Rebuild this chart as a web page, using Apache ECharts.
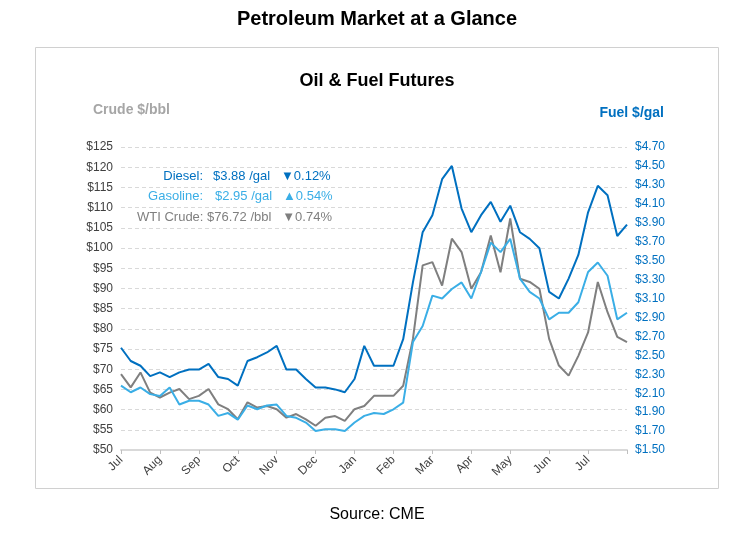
<!DOCTYPE html>
<html>
<head>
<meta charset="utf-8">
<script src="https://cdn.jsdelivr.net/npm/echarts@6/dist/echarts.min.js"></script>
<style>
  html, body { margin: 0; padding: 0; background: #fff; }
  #chart { width: 754px; height: 549px; }
</style>
</head>
<body>
<div id="chart"></div>
<script>
// month labels, one every 4 weekly points
const months = ['Jul', 'Aug', 'Sep', 'Oct', 'Nov', 'Dec', 'Jan', 'Feb', 'Mar', 'Apr', 'May', 'Jun', 'Jul'];
// weekly prices
const diesel = [2.58, 2.44, 2.39, 2.28, 2.32, 2.27, 2.32, 2.35, 2.35, 2.41, 2.27, 2.25,
  2.18, 2.44, 2.48, 2.53, 2.60, 2.35, 2.35, 2.25, 2.16, 2.16, 2.14, 2.11,
  2.25, 2.60, 2.39, 2.39, 2.39, 2.67, 3.27, 3.80, 3.98, 4.36, 4.50, 4.05,
  3.80, 3.98, 4.12, 3.91, 4.08, 3.80, 3.73, 3.63, 3.17, 3.10, 3.31, 3.56,
  4.01, 4.29, 4.19, 3.76, 3.88];
const gasoline = [2.18, 2.11, 2.16, 2.09, 2.07, 2.16, 1.98, 2.02, 2.02, 1.98, 1.86, 1.89,
  1.82, 1.97, 1.93, 1.97, 1.98, 1.86, 1.84, 1.79, 1.70, 1.72, 1.72, 1.70,
  1.79, 1.86, 1.89, 1.88, 1.93, 2.00, 2.64, 2.81, 3.13, 3.10, 3.20, 3.27,
  3.10, 3.38, 3.69, 3.59, 3.73, 3.31, 3.17, 3.10, 2.88, 2.95, 2.95, 3.06,
  3.38, 3.48, 3.34, 2.88, 2.95];
const wti = [68.8, 65.5, 69.2, 64.2, 63.0, 64.2, 65.1, 62.6, 63.4, 65.1, 61.3, 60.1,
  57.6, 61.8, 60.5, 60.9, 60.1, 58.0, 58.9, 57.6, 56.0, 58.0, 58.4, 57.2,
  60.1, 60.9, 63.4, 63.4, 63.4, 65.9, 77.5, 95.7, 96.5, 90.7, 102.3, 99.0,
  89.9, 94.0, 103.1, 94.0, 107.3, 92.4, 91.6, 89.9, 77.5, 70.9, 68.4, 73.3,
  79.1, 91.6, 84.1, 78.0, 76.7];
const categories = diesel.map((v, i) => (i % 4 === 0 && months[i / 4]) || '');

const blue = '#0070C0', light = '#3AAEE6', grey = '#7F7F7F';
let chart = echarts.init(document.getElementById('chart'));
const font = 'Liberation Sans, Arial, sans-serif';

chart.setOption({
  animation: false,
  textStyle: { fontFamily: font },
  grid: { left: 121, right: 127, top: 147, bottom: 99 },
  graphic: [
    { type: 'rect', shape: { x: 35.5, y: 47.5, width: 683, height: 441 }, style: { fill: 'none', stroke: '#D0D0D0', lineWidth: 1 } },
    { type: 'text', x: 377, y: 9, style: { text: 'Petroleum Market at a Glance', font: 'bold 20px ' + font, fill: '#000', align: 'center' } },
    { type: 'text', x: 377, y: 72, style: { text: 'Oil & Fuel Futures', font: 'bold 18px ' + font, fill: '#000', align: 'center' } },
    { type: 'text', x: 93, y: 103, style: { text: 'Crude $/bbl', font: 'bold 14px ' + font, fill: '#A6A6A6' } },
    { type: 'text', x: 664, y: 106, style: { text: 'Fuel $/gal', font: 'bold 14px ' + font, fill: blue, align: 'right' } },
    { type: 'text', x: 377, y: 507, style: { text: 'Source: CME', font: '16px ' + font, fill: '#000', align: 'center' } },
    { type: 'text', x: 203, y: 170, style: { text: 'Diesel:', font: '13px ' + font, fill: blue, align: 'right' } },
    { type: 'text', x: 213, y: 170, style: { text: '$3.88 /gal   \u25BC0.12%', font: '13px ' + font, fill: blue } },
    { type: 'text', x: 203, y: 190, style: { text: 'Gasoline:', font: '13px ' + font, fill: light, align: 'right' } },
    { type: 'text', x: 215, y: 190, style: { text: '$2.95 /gal   \u25B20.54%', font: '13px ' + font, fill: light } },
    { type: 'text', x: 137, y: 211, style: { text: 'WTI Crude: $76.72 /bbl   \u25BC0.74%', font: '13px ' + font, fill: grey } }
  ],
  xAxis: {
    type: 'category', data: categories, boundaryGap: false,
    axisLine: { lineStyle: { color: '#D9D9D9', width: 2 } },
    axisTick: { show: true, length: 4, lineStyle: { color: '#BFBFBF' }, interval: (i) => i % 4 === 0 },
    axisLabel: { interval: 0, rotate: 45, color: '#404040', fontSize: 12, margin: 8 }
  },
  yAxis: [
    {
      type: 'value', min: 50, max: 125, interval: 5,
      axisLabel: { formatter: (v) => '$' + v, color: '#404040', fontSize: 12 },
      splitLine: { lineStyle: { color: '#D9D9D9', type: [4, 3] } },
      axisLine: { show: false }, axisTick: { show: false }
    },
    {
      type: 'value', min: 1.5, max: 4.7, interval: 0.2,
      axisLabel: { formatter: (v) => '$' + v.toFixed(2), color: blue, fontSize: 12 },
      splitLine: { show: false }, axisLine: { show: false }, axisTick: { show: false }
    }
  ],
  series: [
    { name: 'WTI Crude', type: 'line', yAxisIndex: 0, data: wti, showSymbol: false, lineStyle: { color: grey, width: 2 }, itemStyle: { color: grey } },
    { name: 'Gasoline', type: 'line', yAxisIndex: 1, data: gasoline, showSymbol: false, lineStyle: { color: light, width: 2 }, itemStyle: { color: light } },
    { name: 'Diesel', type: 'line', yAxisIndex: 1, data: diesel, showSymbol: false, lineStyle: { color: blue, width: 2 }, itemStyle: { color: blue } }
  ]
});
</script>
</body>
</html>
